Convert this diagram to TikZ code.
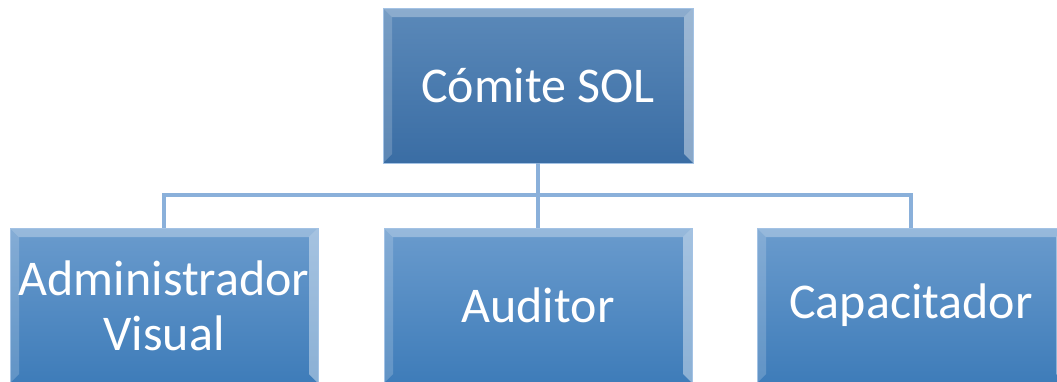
\documentclass[tikz,border=0pt]{standalone}
\usepackage{fontspec}
\setmainfont{Carlito}
\definecolor{jefeTop}{HTML}{5B89B9}
\definecolor{jefeBot}{HTML}{3A6DA4}
\definecolor{cargoTop}{HTML}{6A9BCD}
\definecolor{cargoBot}{HTML}{3E7CB9}
\definecolor{linea}{HTML}{8AB0DA}
\definecolor{borde}{HTML}{A3C2E4}
\tikzset{
  bisel/.style={path picture={
    \fill[white,opacity=0.30] (path picture bounding box.north west) -- (path picture bounding box.north east)
      -- ([xshift=-9pt,yshift=-9pt]path picture bounding box.north east) -- ([xshift=9pt,yshift=-9pt]path picture bounding box.north west) -- cycle;
    \fill[white,opacity=0.18] (path picture bounding box.north west) -- ([xshift=9pt,yshift=-9pt]path picture bounding box.north west)
      -- ([xshift=9pt,yshift=9pt]path picture bounding box.south west) -- (path picture bounding box.south west) -- cycle;
    \fill[white,opacity=0.40] (path picture bounding box.north east) -- ([xshift=-9pt,yshift=-9pt]path picture bounding box.north east)
      -- ([xshift=-9pt,yshift=9pt]path picture bounding box.south east) -- (path picture bounding box.south east) -- cycle;
  }},
  biselbajo/.style={bisel, append after command={
    \pgfextra{\fill[black,opacity=0.12] (\tikzlastnode.south west) -- ([xshift=9pt,yshift=9pt]\tikzlastnode.south west)
      -- ([xshift=-9pt,yshift=9pt]\tikzlastnode.south east) -- (\tikzlastnode.south east) -- cycle;}}},
  caja/.style={rectangle, draw=borde, line width=0.8pt,
    minimum width=310pt, minimum height=155pt, inner sep=0pt, text=white, align=center,
    font=\fontsize{50}{55}\selectfont},
  jefe/.style={caja, biselbajo, top color=jefeTop, bottom color=jefeBot},
  cargo/.style={caja, bisel, minimum width=308pt, top color=cargoTop, bottom color=cargoBot},
  enlace/.style={draw=linea, line width=3.2pt}
}
\begin{document}
\begin{tikzpicture}[x=1pt,y=-1pt]
  \useasboundingbox (0,0) rectangle (1057,381);
  \clip (0,0) rectangle (1057,381);
  \coordinate (bus) at (538,195);
  \node[jefe] (comite) at (538,85.5) {Cómite SOL};
  \node[cargo] (admin) at (164,305.5) {Administrador\\Visual};
  \node[cargo] (auditor) at (538,305.5) {Auditor};
  \node[cargo] (capac) at (911,305.5) {Capacitador};

  % conectores
  \draw[enlace] (comite.south) -- (bus);
  \draw[enlace] (admin.north) |- (bus) -| (capac.north);
  \draw[enlace] (auditor.north) -- (bus);
\end{tikzpicture}
\end{document}
